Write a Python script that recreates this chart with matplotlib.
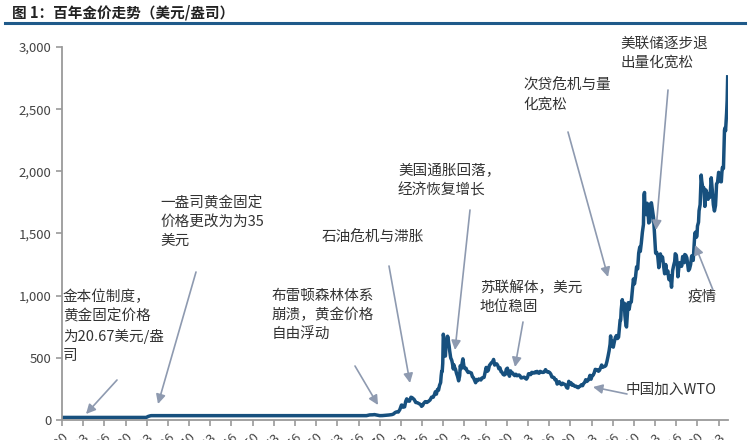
import matplotlib
matplotlib.use("Agg")
import matplotlib.pyplot as plt
from matplotlib.lines import Line2D
import pandas as pd

plt.rcParams['font.family'] = ['Noto Sans CJK SC', 'DejaVu Sans']

# monthly gold price, USD/oz
dates = [
    "1920-01", "1933-04", "1933-08", "1933-12", "1934-02", "1967-12",
    "1968-03", "1968-06", "1968-12", "1969-03", "1969-06", "1969-12",
    "1970-01", "1970-06", "1970-12", "1971-03", "1971-06", "1971-09", "1971-12",
    "1972-03", "1972-06", "1972-09", "1972-12", "1973-03", "1973-06", "1973-07",
    "1973-09", "1973-12", "1974-02", "1974-04", "1974-06", "1974-09", "1974-12",
    "1975-02", "1975-06", "1975-09", "1975-12", "1976-03", "1976-06", "1976-08",
    "1976-10", "1976-12", "1977-03", "1977-06", "1977-09", "1977-12", "1978-03",
    "1978-06", "1978-09", "1978-10", "1978-12", "1979-02", "1979-04", "1979-06",
    "1979-08", "1979-09", "1979-10", "1979-11", "1979-12", "1980-01", "1980-02",
    "1980-03", "1980-04", "1980-05", "1980-06", "1980-07", "1980-08", "1980-09",
    "1980-10", "1980-11", "1980-12", "1981-01", "1981-03", "1981-05", "1981-06",
    "1981-08", "1981-09", "1981-11", "1981-12", "1982-02", "1982-04", "1982-06",
    "1982-08", "1982-09", "1982-11", "1982-12", "1983-02", "1983-04", "1983-06",
    "1983-08", "1983-10", "1983-12", "1984-02", "1984-04", "1984-06", "1984-08",
    "1984-10", "1984-12", "1985-02", "1985-04", "1985-06", "1985-08", "1985-10",
    "1985-12", "1986-02", "1986-04", "1986-06", "1986-08", "1986-10", "1986-12",
    "1987-02", "1987-04", "1987-06", "1987-08", "1987-10", "1987-12", "1988-02",
    "1988-04", "1988-06", "1988-08", "1988-10", "1988-12", "1989-02", "1989-04",
    "1989-06", "1989-08", "1989-10", "1989-12", "1990-02", "1990-04", "1990-06",
    "1990-08", "1990-10", "1990-12", "1991-02", "1991-04", "1991-06", "1991-08",
    "1991-10", "1991-12", "1992-02", "1992-04", "1992-06", "1992-08", "1992-10",
    "1992-12", "1993-02", "1993-04", "1993-06", "1993-08", "1993-10", "1993-12",
    "1994-02", "1994-04", "1994-06", "1994-08", "1994-10", "1994-12", "1995-02",
    "1995-04", "1995-06", "1995-08", "1995-10", "1995-12", "1996-02", "1996-04",
    "1996-06", "1996-08", "1996-10", "1996-12", "1997-02", "1997-04", "1997-06",
    "1997-08", "1997-10", "1997-12", "1998-02", "1998-04", "1998-06", "1998-08",
    "1998-10", "1998-12", "1999-02", "1999-04", "1999-06", "1999-08", "1999-10",
    "1999-12", "2000-02", "2000-04", "2000-06", "2000-08", "2000-10", "2000-12",
    "2001-02", "2001-04", "2001-06", "2001-08", "2001-10", "2001-12", "2002-02",
    "2002-04", "2002-06", "2002-08", "2002-10", "2002-12", "2003-02", "2003-04",
    "2003-06", "2003-08", "2003-10", "2003-12", "2004-02", "2004-04", "2004-06",
    "2004-08", "2004-10", "2004-12", "2005-02", "2005-04", "2005-06", "2005-08",
    "2005-10", "2005-12", "2006-02", "2006-04", "2006-05", "2006-06", "2006-08",
    "2006-10", "2006-12", "2007-02", "2007-04", "2007-06", "2007-08", "2007-10",
    "2007-11", "2007-12", "2008-01", "2008-03", "2008-05", "2008-07", "2008-08",
    "2008-10", "2008-11", "2008-12", "2009-02", "2009-04", "2009-06", "2009-08",
    "2009-10", "2009-12", "2010-02", "2010-04", "2010-06", "2010-08", "2010-10",
    "2010-12", "2011-01", "2011-03", "2011-05", "2011-07", "2011-08", "2011-09",
    "2011-10", "2011-11", "2011-12", "2012-01", "2012-02", "2012-04", "2012-05",
    "2012-07", "2012-09", "2012-10", "2012-12", "2013-02", "2013-04", "2013-06",
    "2013-08", "2013-10", "2013-12", "2014-02", "2014-03", "2014-05", "2014-07",
    "2014-09", "2014-11", "2014-12", "2015-01", "2015-03", "2015-05", "2015-07",
    "2015-09", "2015-10", "2015-12", "2016-02", "2016-04", "2016-06", "2016-07",
    "2016-09", "2016-11", "2016-12", "2017-02", "2017-04", "2017-06", "2017-07",
    "2017-09", "2017-11", "2017-12", "2018-01", "2018-03", "2018-05", "2018-07",
    "2018-08", "2018-10", "2018-12", "2019-02", "2019-04", "2019-05", "2019-06",
    "2019-08", "2019-09", "2019-11", "2019-12", "2020-01", "2020-03", "2020-04",
    "2020-06", "2020-07", "2020-08", "2020-09", "2020-11", "2020-12", "2021-01",
    "2021-03", "2021-05", "2021-06", "2021-08", "2021-09", "2021-11", "2021-12",
    "2022-01", "2022-03", "2022-05", "2022-07", "2022-09", "2022-11", "2022-12",
    "2023-01", "2023-03", "2023-05", "2023-07", "2023-09", "2023-10", "2023-11",
    "2023-12", "2024-01", "2024-02", "2024-03", "2024-04", "2024-05", "2024-06",
    "2024-07", "2024-08", "2024-09", "2024-10",
]
prices = [
    20.67, 20.67, 29.0, 34.0, 35.0, 35.0,
    38.0, 41.0, 41.9, 43.5, 41.0, 35.2,
    35.0, 35.5, 37.4, 38.9, 40.1, 42.0, 43.5,
    48.3, 60.0, 65.5, 63.9, 84.0, 120.0, 120.0,
    103, 106, 150, 170, 154, 151, 183,
    180, 165, 141, 139, 132, 125, 110,
    117, 134, 148, 141, 150, 161, 184,
    183, 212, 227, 208, 246, 239, 279,
    301, 355, 392, 392, 456, 690, 665,
    554, 517, 514, 600, 644, 627, 674,
    662, 623, 595, 557, 500, 480, 461,
    410, 444, 413, 410, 374, 350, 315,
    357, 436, 414, 445, 492, 432, 413,
    416, 394, 382, 386, 381, 378, 348,
    340, 320, 300, 326, 317, 330, 326,
    322, 338, 340, 343, 384, 423, 391,
    400, 438, 450, 461, 466, 487, 442,
    452, 451, 437, 412, 420, 389, 384,
    367, 362, 367, 409, 417, 374, 352,
    395, 380, 378, 364, 357, 368, 356,
    358, 362, 354, 338, 340, 343, 344,
    335, 329, 342, 372, 372, 365, 383,
    381, 377, 386, 380, 391, 379, 376,
    391, 387, 383, 383, 387, 405, 393,
    385, 387, 381, 369, 346, 344, 341,
    324, 325, 289, 297, 308, 293, 284,
    296, 291, 287, 282, 261, 256, 311,
    290, 300, 280, 286, 275, 270, 272,
    262, 260, 270, 273, 284, 276, 294,
    302, 324, 310, 317, 333, 359, 328,
    356, 360, 379, 407, 405, 404, 392,
    400, 420, 442, 424, 429, 431, 438,
    470, 510, 555, 610, 676, 596, 633,
    586, 629, 665, 679, 655, 666, 754,
    806, 803, 889, 968, 889, 939, 839,
    760, 748, 816, 943, 890, 945, 949,
    1043, 1134, 1095, 1149, 1232, 1215, 1342,
    1391, 1356, 1424, 1510, 1572, 1810, 1830,
    1665, 1739, 1652, 1656, 1743, 1650, 1585,
    1594, 1744, 1747, 1688, 1627, 1487, 1342,
    1348, 1316, 1225, 1300, 1336, 1289, 1311,
    1239, 1176, 1201, 1251, 1179, 1199, 1131,
    1125, 1159, 1068, 1200, 1242, 1276, 1337,
    1326, 1236, 1152, 1234, 1266, 1260, 1236,
    1315, 1282, 1265, 1331, 1325, 1304, 1238,
    1202, 1215, 1250, 1320, 1285, 1284, 1359,
    1500, 1510, 1470, 1480, 1560, 1591, 1683,
    1732, 1847, 1970, 1922, 1866, 1858, 1867,
    1718, 1850, 1834, 1785, 1775, 1822, 1790,
    1817, 1948, 1849, 1732, 1681, 1725, 1798,
    1898, 1913, 1992, 1951, 1916, 1916, 1985,
    2030, 2034, 2023, 2158, 2331, 2350, 2326,
    2398, 2470, 2571, 2760,
]

yticks = [0, 500, 1000, 1500, 2000, 2500, 3000]

# annotation text, text top-left (px), arrow tail (px), arrow head (px)
notes = [
    ("金本位制度，\n黄金固定价格\n为20.67美元/盎\n司", (63, 289), (117, 380), (86, 414)),
    ("一盎司黄金固定\n价格更改为为35\n美元", (160, 196), (196, 272), (158, 404)),
    ("布雷顿森林体系\n崩溃，黄金价格\n自由浮动", (272, 289), (355, 366), (378, 405)),
    ("石油危机与滞胀", (322, 230), (389, 266), (410, 383)),
    ("美国通胀回落，\n经济恢复增长", (398, 164), (470, 210), (455, 350)),
    ("苏联解体，美元\n地位稳固", (480, 280), (523, 322), (515, 367)),
    ("次贷危机与量\n化宽松", (523, 78), (568, 132), (608, 277)),
    ("美联储逐步退\n出量化宽松", (620, 37), (668, 90), (656, 230)),
    ("疫情", (688, 290), (713, 290), (695, 245)),
    ("中国加入WTO", (626, 383), (627, 394), (593, 387)),
]

W, H = 751, 440
fig = plt.figure(figsize=(W / 100, H / 100), dpi=100)
ax = fig.add_axes([62 / W, 20 / H, 666 / W, 373 / H])

x = pd.to_datetime(dates)
ax.plot(x, prices, color='#17507e', lw=2.5, solid_joinstyle='round')

ax.set_ylim(0, 3000)
ax.set_xlim(pd.Timestamp('1920-01-01'), pd.Timestamp('2024-10-20'))
ax.set_yticks(yticks)
ax.set_yticklabels([f"{v:,}" for v in yticks])
xt = pd.date_range('1920-01-01', periods=32, freq='40MS')
ax.set_xticks(xt)
ax.set_xticklabels([d.strftime('%b-%y') for d in xt], rotation=45, ha='right',
                   rotation_mode='anchor')

for s in ['top', 'right']:
    ax.spines[s].set_visible(False)
for s in ['left', 'bottom']:
    ax.spines[s].set_color('#9a9a9a')
    ax.spines[s].set_linewidth(1.3)
ax.tick_params(colors='#9a9a9a', labelcolor='#444444', labelsize=9.5, length=4, width=1.2)

# title and rule
fig.text(12 / W, 1 - 12 / H, "图 1：百年金价走势（美元/盎司）", fontsize=10.5,
         fontweight='bold', color='#222222', va='center', ha='left')
fig.add_artist(Line2D([5 / W, 745 / W], [1 - 23 / H] * 2, color='#1f5a8a', lw=2.2))

for txt, (tx, ty), tail, head in notes:
    fig.text(tx / W, 1 - ty / H, txt, fontsize=10.5, color='#333333',
             va='top', ha='left', linespacing=1.45)
    ax.annotate('', xy=(head[0], H - head[1]), xycoords='figure pixels',
                xytext=(tail[0], H - tail[1]), textcoords='figure pixels',
                arrowprops=dict(arrowstyle='-|>', color='#8e9ab0', lw=1.2,
                                mutation_scale=14, shrinkA=0, shrinkB=0))

fig.savefig('out.png', dpi=100)
